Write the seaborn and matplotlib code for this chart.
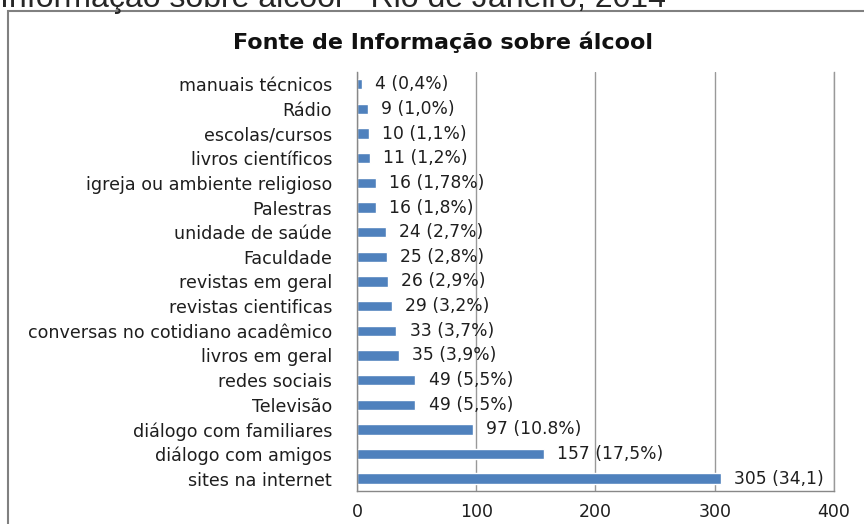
import matplotlib
matplotlib.use("Agg")
import matplotlib.pyplot as plt
import numpy as np
import seaborn as sns
from matplotlib.patches import Rectangle

# data (top to bottom as in the chart)
fontes = ["manuais técnicos", "Rádio", "escolas/cursos", "livros científicos",
          "igreja ou ambiente religioso", "Palestras", "unidade de saúde", "Faculdade",
          "revistas em geral", "revistas cientificas", "conversas no cotidiano acadêmico",
          "livros em geral", "redes sociais", "Televisão", "diálogo com familiares",
          "diálogo com amigos", "sites na internet"]
contagens = [4, 9, 10, 11, 16, 16, 24, 25, 26, 29, 33, 35, 49, 49, 97, 157, 305]
rotulos = ["4 (0,4%)", "9 (1,0%)", "10 (1,1%)", "11 (1,2%)", "16 (1,78%)", "16 (1,8%)",
           "24 (2,7%)", "25 (2,8%)", "26 (2,9%)", "29 (3,2%)", "33 (3,7%)", "35 (3,9%)",
           "49 (5,5%)", "49 (5,5%)", "97 (10.8%)", "157 (17,5%)", "305 (34,1)"]
xticks = [0, 100, 200, 300, 400]

sns.set_style("white")
plt.rcParams['font.family'] = ['DejaVu Sans']

fig = plt.figure(figsize=(8.64, 5.24), dpi=100)
ax = fig.add_axes([0.4132, 0.063, 0.552, 0.7996])

sns.barplot(x=contagens, y=fontes, orient="h", color="#4F81BD", width=0.42,
            saturation=1, ax=ax)

ax.set_xlim(0, 400)
ax.set_ylim(16.5, -0.5)
ax.set_xticks(xticks)
ax.set_xticklabels([str(t) for t in xticks], fontsize=12.5, color="#1e1e1e")
ax.set_yticks(range(len(fontes)))
ax.set_yticklabels(fontes, fontsize=12.6, color="#1e1e1e")
ax.set_yticks(np.arange(-0.5, len(fontes), 1), minor=True)
ax.tick_params(axis="y", which="major", length=0, pad=18)
ax.tick_params(axis="y", which="minor", length=5, color="#888888", width=1)
ax.tick_params(axis="x", length=5, color="#888888", width=1, pad=4, direction="out")
ax.xaxis.grid(True, color="#999999", linewidth=1)
ax.set_axisbelow(True)
ax.set_xlabel("")
ax.set_ylabel("")
ax.spines["top"].set_visible(False)
ax.spines["right"].set_color("#999999")
ax.spines["right"].set_linewidth(1)
for lado in ["left", "bottom"]:
    ax.spines[lado].set_color("#888888")
    ax.spines[lado].set_linewidth(1)

ax.bar_label(ax.containers[0], labels=rotulos, padding=9.5, fontsize=12.3, color="#1e1e1e")

fig.text(443 / 864, 1 - 42 / 524, "Fonte de Informação sobre álcool", ha="center",
         va="center", fontsize=16, fontweight="bold", color="#111111")
fig.text(0.0, 1.0 - 7.5 / 524, "Informação sobre álcool - Rio de Janeiro, 2014",
         fontsize=23, family=["Liberation Sans", "DejaVu Sans"], va="baseline", ha="left")

fig.patches.append(Rectangle((8 / 864, -0.2), 1.5, 1.2 - 11 / 524,
                             transform=fig.transFigure, fill=False,
                             edgecolor="#808080", linewidth=1.5))

fig.savefig("out.png", dpi=100)
